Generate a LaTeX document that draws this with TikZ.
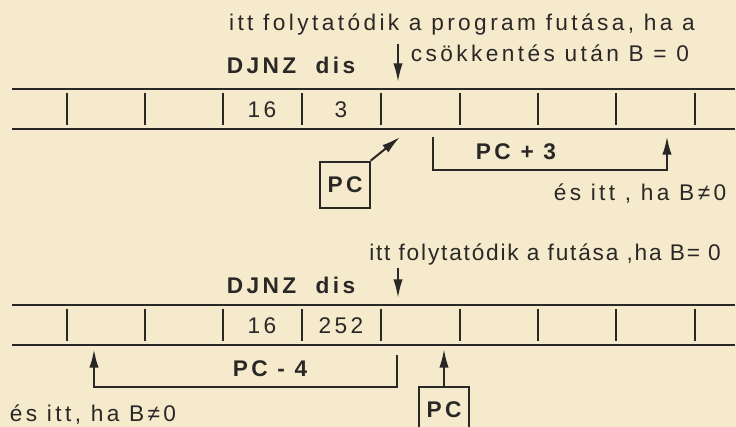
\documentclass[tikz,border=0pt]{standalone}
\usepackage{fontspec}
\setmainfont{Liberation Sans}
\newfontfamily\widefont[LetterSpace=15]{Liberation Sans}
\newfontfamily\tightfont[LetterSpace=8]{Liberation Sans}
\usetikzlibrary{arrows.meta}
\definecolor{paper}{RGB}{246,234,204}
\definecolor{ink}{RGB}{42,40,38}

\begin{document}
\begin{tikzpicture}[x=0.75pt, y=-0.75pt,
  lbl/.style={font=\widefont\fontsize{17}{19}\selectfont, text=ink, inner sep=0pt},
  lbln/.style={font=\tightfont\fontsize{17}{19}\selectfont, text=ink, inner sep=0pt},
  lblb/.style={font=\widefont\bfseries\fontsize{17}{19}\selectfont, text=ink, inner sep=0pt},
  rail/.style={draw=ink, line width=1.8pt},
  sep/.style={draw=ink, line width=1.3pt},
  pcbox/.style={draw=ink, line width=1.5pt, minimum width=37pt, minimum height=35pt, inner sep=0pt, font=\widefont\bfseries\fontsize{17}{19}\selectfont, text=ink},
  arrow/.style={-{Latex[length=14pt,width=7pt]}, draw=ink, line width=1.5pt},
  bracket/.style={arrow, line width=1.8pt}
]
\clip (0,0) rectangle (736,427);
\fill[paper] (0,0) rectangle (736,427);

\node[lbl] (cont1) at (462,25) {itt folytatódik a program futása, ha a};
\node[lbl] (cont1b) at (550,53) {csökkentés után B = 0};
\node[lblb] (op1) at (291,65) {DJNZ \ dis};
\coordinate (in1) at (398,44);
\coordinate (at1) at (398,82);
\draw[arrow] (in1) -- (at1);

\draw[rail] (12,89) -- (735,89);
\draw[rail] (12,129) -- (735,129);
\draw[sep] (67,93) -- (67,125) (145,93) -- (145,125) (223,93) -- (223,125)
  (302,93) -- (302,125) (381,93) -- (381,125) (460,93) -- (460,125)
  (538,93) -- (538,125) (616,93) -- (616,125) (695,93) -- (695,125);
\node[lbl] (b1) at (262,110) {16};
\node[lbl] (d1) at (341,110) {3};

\node[pcbox] (pc1) at (345,185) {PC};
\coordinate (pt1) at (400,137);
\draw[arrow] (pc1.north east) -- (pt1);

\coordinate (j1s) at (433,137);
\coordinate (j1b) at (433,170);
\coordinate (j1e) at (667,136);
\draw[bracket] (j1s) -- (j1b) -| (j1e);
\node[lblb] (off1) at (516,152) {PC + 3};
\node[lbl] (else1) at (640,194) {és itt , ha B≠0};

\node[lbln] (cont2) at (545,255) {itt folytatódik a futása ,ha B= 0};
\node[lblb] (op2) at (291,285) {DJNZ \ dis};
\coordinate (in2) at (398,268);
\coordinate (at2) at (398,298);
\draw[arrow] (in2) -- (at2);

\draw[rail] (12,305) -- (735,305);
\draw[rail] (12,345) -- (735,345);
\draw[sep] (67,309) -- (67,341) (145,309) -- (145,341) (223,309) -- (223,341)
  (302,309) -- (302,341) (381,309) -- (381,341) (460,309) -- (460,341)
  (538,309) -- (538,341) (616,309) -- (616,341) (695,309) -- (695,341);
\node[lbl] (b2) at (262,326) {16};
\node[lbl] (d2) at (341,326) {252};

\coordinate (j2s) at (397,355);
\coordinate (j2b) at (397,387);
\coordinate (j2e) at (94,349);
\draw[bracket] (j2s) -- (j2b) -| (j2e);
\node[lblb] (off2) at (270,369) {PC - 4};
\node[lbl] (else2) at (93,415) {és itt, ha B≠0};

\node[pcbox] (pc2) at (444,410) {PC};
\coordinate (pt2) at (444,349);
\draw[arrow] (pc2.north) -- (pt2);
\end{tikzpicture}
\end{document}
